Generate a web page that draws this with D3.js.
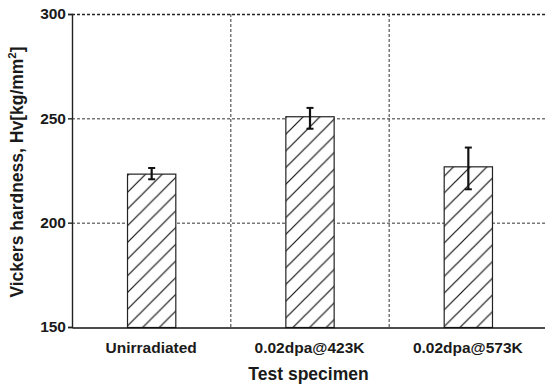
<!DOCTYPE html>
<html>
<head>
<meta charset="utf-8">
<script src="https://cdn.jsdelivr.net/npm/d3@7"></script>
<style>
  body { margin: 0; background: #fff; }
  text { font-family: "Liberation Sans", Arial, sans-serif; font-weight: bold; fill: #1a1a1a; }
</style>
</head>
<body>
<div class="canvas"></div>
<script>
const categories = ["Unirradiated", "0.02dpa@423K", "0.02dpa@573K"];
const hardness = [223.5, 251, 227];
const errLow = [2.7, 6, 11];
const errHigh = [2.7, 4, 9];
const yTicks = [150, 200, 250, 300];

const dims = { width: 545, height: 389 };
const margin = { top: 14, right: -2, bottom: 62, left: 72 };
const w = dims.width - margin.left - margin.right;
const h = dims.height - margin.top - margin.bottom;

const svg = d3
  .select(".canvas")
  .append("svg")
  .attr("width", dims.width)
  .attr("height", dims.height);

// hatch pattern
const hs = 16.7;
svg
  .append("defs")
  .append("pattern")
  .attr("id", "hatch")
  .attr("patternUnits", "userSpaceOnUse")
  .attr("width", hs)
  .attr("height", hs)
  .call((p) => {
    p.append("rect").attr("width", hs).attr("height", hs).attr("fill", "#fff");
    p.append("path")
      .attr("d", `M-2,${hs + 2}L${hs + 2},-2M${-hs / 4},${hs / 4}L${hs / 4},${-hs / 4}M${hs - hs / 4},${hs + hs / 4}L${hs + hs / 4},${hs - hs / 4}`)
      .attr("stroke", "#111")
      .attr("stroke-width", 1.2);
  });

const graph = svg
  .append("g")
  .attr("transform", `translate(${margin.left},${margin.top})`);

const x = d3.scaleBand().domain(categories).range([0, w]).paddingInner(0.695).paddingOuter(0.3475);
const y = d3.scaleLinear().domain([150, 300]).range([h, 0]);

// horizontal grid
graph
  .selectAll(".hgrid")
  .data(yTicks.slice(1))
  .enter()
  .append("line")
  .attr("x1", 0)
  .attr("x2", w)
  .attr("y1", (d) => y(d) + 0.5)
  .attr("y2", (d) => y(d) + 0.5)
  .attr("stroke", (d) => (d === 300 ? "#222" : "#333"))
  .attr("stroke-width", (d) => (d === 300 ? 1.6 : 1))
  .attr("stroke-dasharray", "3,2");

// vertical grid at category boundaries
const step = x.step();
graph
  .selectAll(".vgrid")
  .data(categories.slice(1))
  .enter()
  .append("line")
  .attr("x1", (d) => x(d) - (step - x.bandwidth()) / 2 + 0.5)
  .attr("x2", (d) => x(d) - (step - x.bandwidth()) / 2 + 0.5)
  .attr("y1", 0)
  .attr("y2", h)
  .attr("stroke", "#333")
  .attr("stroke-dasharray", "3,2");

// bars
graph
  .selectAll(".bar")
  .data(hardness)
  .enter()
  .append("rect")
  .attr("x", (d, i) => x(categories[i]) + 0.5)
  .attr("y", (d) => y(d) + 0.5)
  .attr("width", x.bandwidth())
  .attr("height", (d) => h - y(d))
  .attr("fill", "url(#hatch)")
  .attr("stroke", "#222")
  .attr("stroke-width", 1.2);

// error bars
const eb = graph
  .selectAll(".err")
  .data(hardness)
  .enter()
  .append("g")
  .attr("transform", (d, i) => `translate(${x(categories[i]) + x.bandwidth() / 2 + 0.5},0)`);
eb.append("line")
  .attr("y1", (d, i) => y(d + errHigh[i]))
  .attr("y2", (d, i) => y(d - errLow[i]))
  .attr("stroke", "#111")
  .attr("stroke-width", 2.2);
eb.selectAll(".cap")
  .data((d, i) => [d + errHigh[i], d - errLow[i]])
  .enter()
  .append("line")
  .attr("x1", -3.5)
  .attr("x2", 3.5)
  .attr("y1", (d) => y(d))
  .attr("y2", (d) => y(d))
  .attr("stroke", "#111")
  .attr("stroke-width", 2);

// axes
const yAxis = d3.axisLeft(y).tickValues(yTicks).tickSize(4).tickPadding(2);
graph
  .append("g")
  .call(yAxis)
  .call((g) => g.select(".domain").attr("stroke", "#222").attr("stroke-width", 1.4))
  .call((g) => g.selectAll(".tick line").attr("stroke", "#222").attr("stroke-width", 1.4))
  .call((g) => g.selectAll("text").attr("font-size", 15.5).attr("font-family", null));

const xAxis = d3.axisBottom(x).tickSize(0).tickPadding(14);
graph
  .append("g")
  .attr("transform", `translate(0,${h + 0.5})`)
  .call(xAxis)
  .call((g) => g.select(".domain").attr("stroke", "#111").attr("stroke-width", 1.6))
  .call((g) => g.selectAll("text").attr("font-size", 15.5).attr("font-family", null));

// axis labels
svg
  .append("text")
  .attr("x", margin.left + w / 2 - 1)
  .attr("y", 380)
  .attr("text-anchor", "middle")
  .attr("font-size", 17.5)
  .text("Test specimen");

const yl = svg
  .append("text")
  .attr("transform", `translate(23,172) rotate(-90)`)
  .attr("text-anchor", "middle")
  .attr("font-size", 17.5);
yl.append("tspan").text("Vickers hardness, Hv[kg/mm");
yl.append("tspan").attr("font-size", 11.5).attr("dy", -7).text("2");
yl.append("tspan").attr("dy", 7).text("]");
</script>
</body>
</html>
